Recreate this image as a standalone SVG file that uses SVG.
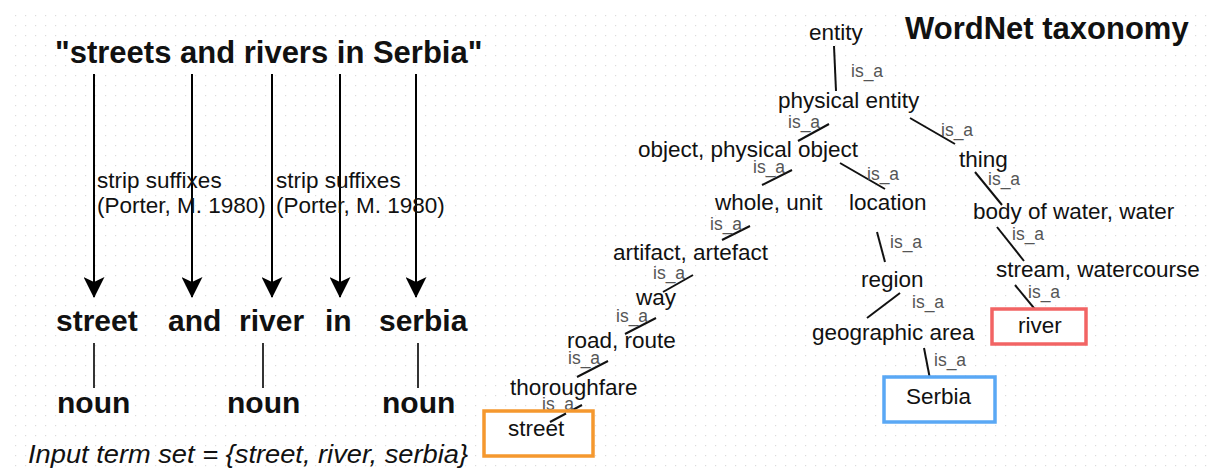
<svg xmlns="http://www.w3.org/2000/svg" width="1209" height="472" viewBox="0 0 1209 472">
<defs>
<pattern id="grid" x="0" y="0" width="10" height="10" patternUnits="userSpaceOnUse">
<rect x="5" y="5" width="1.2" height="1.2" fill="#dcdcdc"/>
</pattern>
<marker id="arr" markerWidth="21" markerHeight="21" refX="20" refY="10.5" orient="auto" markerUnits="userSpaceOnUse">
<path d="M0,0 L21,10.5 L0,21 L5,10.5 Z" fill="#000"/>
</marker>
</defs>
<style>
text{font-family:"Liberation Sans",Arial,sans-serif;fill:#111}
.title{font-size:31px;font-weight:bold}
.word{font-size:30px;font-weight:bold}
.note{font-size:22.5px}
.node{font-size:22.5px}
.isa{font-size:17.5px;fill:#555}
.arrow{stroke:#000;stroke-width:2;fill:none;marker-end:url(#arr)}
.tick{stroke:#000;stroke-width:1.6}
.edge{stroke:#111;stroke-width:2}
.box{fill:#fff;stroke-width:3.5}
</style>
<rect width="1209" height="472" fill="#fff"/>
<rect x="10" y="10" width="1199" height="462" fill="url(#grid)"/>

<g id="sentence"><text class="title" x="55" y="63">"streets and rivers in Serbia"</text></g>
<g id="wordnet-title"><text class="title" x="905" y="39">WordNet taxonomy</text></g>

<g id="left-connectors">
<line class="arrow" x1="94" y1="74" x2="94" y2="297"/>
<line class="arrow" x1="192" y1="74" x2="192" y2="297"/>
<line class="arrow" x1="272" y1="74" x2="272" y2="297"/>
<line class="arrow" x1="340" y1="74" x2="340" y2="297"/>
<line class="arrow" x1="416" y1="74" x2="416" y2="297"/>
<line class="tick" x1="94" y1="343" x2="94" y2="388"/>
<line class="tick" x1="263" y1="343" x2="263" y2="388"/>
<line class="tick" x1="418" y1="343" x2="418" y2="388"/>
</g>

<g id="strip1"><text class="note" x="97" y="188">strip suffixes</text><text class="note" x="97" y="213">(Porter, M. 1980)</text></g>
<g id="strip2"><text class="note" x="276" y="188">strip suffixes</text><text class="note" x="276" y="213">(Porter, M. 1980)</text></g>

<g id="w-street"><text class="word" x="56" y="331">street</text></g>
<g id="w-and"><text class="word" x="168" y="331">and</text></g>
<g id="w-river"><text class="word" x="239" y="331">river</text></g>
<g id="w-in"><text class="word" x="325" y="331">in</text></g>
<g id="w-serbia"><text class="word" x="379" y="331">serbia</text></g>
<g id="noun1"><text class="word" x="57" y="413">noun</text></g>
<g id="noun2"><text class="word" x="227" y="413">noun</text></g>
<g id="noun3"><text class="word" x="382" y="413">noun</text></g>
<g id="input-set"><text x="28" y="463" font-size="25" font-style="italic" textLength="440" lengthAdjust="spacingAndGlyphs">Input term set = {street, river, serbia}</text></g>

<g id="connectors">
<line class="edge" x1="834" y1="46" x2="836" y2="91"/>
<line class="edge" x1="798" y1="141" x2="829" y2="124"/>
<line class="edge" x1="910" y1="118" x2="955" y2="144"/>
<line class="edge" x1="762" y1="185" x2="792" y2="170"/>
<line class="edge" x1="840" y1="163" x2="885" y2="189"/>
<line class="edge" x1="975" y1="172" x2="1002" y2="205"/>
<line class="edge" x1="722" y1="240" x2="750" y2="226"/>
<line class="edge" x1="877" y1="232" x2="885" y2="262"/>
<line class="edge" x1="997" y1="227" x2="1024" y2="261"/>
<line class="edge" x1="663" y1="292" x2="693" y2="275"/>
<line class="edge" x1="900" y1="293" x2="867" y2="318"/>
<line class="edge" x1="1015" y1="285" x2="1043" y2="319"/>
<line class="edge" x1="625" y1="334" x2="656" y2="318"/>
<line class="edge" x1="924" y1="348" x2="930" y2="379"/>
<line class="edge" x1="577" y1="377" x2="608" y2="361"/>
<line class="edge" x1="550" y1="422" x2="582" y2="405"/>
<g id="edge-labels">
<text class="isa" x="851" y="77">is_a</text>
<text class="isa" x="788" y="128">is_a</text>
<text class="isa" x="941" y="136">is_a</text>
<text class="isa" x="753" y="173">is_a</text>
<text class="isa" x="867" y="180">is_a</text>
<text class="isa" x="988" y="185">is_a</text>
<text class="isa" x="710" y="230">is_a</text>
<text class="isa" x="890" y="248">is_a</text>
<text class="isa" x="1012" y="240">is_a</text>
<text class="isa" x="653" y="279">is_a</text>
<text class="isa" x="912" y="308">is_a</text>
<text class="isa" x="1028" y="298">is_a</text>
<text class="isa" x="616" y="322">is_a</text>
<text class="isa" x="934" y="366">is_a</text>
<text class="isa" x="568" y="364">is_a</text>
<text class="isa" x="542" y="410">is_a</text>
</g>
</g>

<g id="n-entity"><text class="node" x="809" y="40">entity</text></g>
<g id="n-physical-entity"><text class="node" x="778" y="108">physical entity</text></g>
<g id="n-object"><text class="node" x="638" y="157">object, physical object</text></g>
<g id="n-thing"><text class="node" x="959" y="167">thing</text></g>
<g id="n-whole"><text class="node" x="715" y="210">whole, unit</text></g>
<g id="n-location"><text class="node" x="849" y="210">location</text></g>
<g id="n-body"><text class="node" x="973" y="219">body of water, water</text></g>
<g id="n-artifact"><text class="node" x="613" y="260">artifact, artefact</text></g>
<g id="n-stream"><text class="node" x="996" y="277">stream, watercourse</text></g>
<g id="n-region"><text class="node" x="861" y="287">region</text></g>
<g id="n-way"><text class="node" x="636" y="305">way</text></g>
<g id="n-geo"><text class="node" x="812" y="340">geographic area</text></g>
<g id="n-road"><text class="node" x="567" y="348">road, route</text></g>
<g id="n-thoroughfare"><text class="node" x="510" y="395">thoroughfare</text></g>
<g id="n-river"><rect class="box" x="992" y="309" width="94" height="35" stroke="#f26464"/><text class="node" x="1018" y="333">river</text></g>
<g id="n-serbia"><rect class="box" x="884" y="377" width="111" height="45" stroke="#5aa8f5"/><text class="node" x="906" y="404">Serbia</text></g>
<g id="n-street"><rect class="box" x="484" y="411" width="109" height="45" stroke="#f5982e"/><text class="node" x="508" y="436">street</text></g>
<line class="edge" x1="550" y1="422" x2="566" y2="413.5"/>
</svg>
